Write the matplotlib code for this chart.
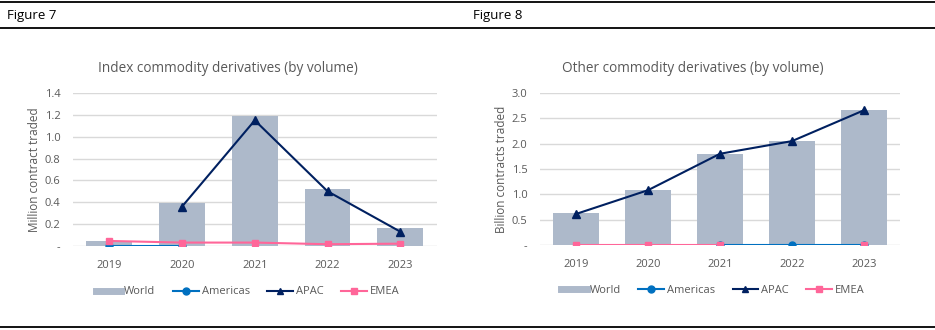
import numpy as np
import matplotlib.pyplot as plt
from matplotlib.lines import Line2D

plt.rcParams['font.family'] = ['Open Sans', 'DejaVu Sans']

years = ["2019", "2020", "2021", "2022", "2023"]

# Figure 7 - index commodity derivatives (million contracts)
idx_world = [0.04, 0.39, 1.19, 0.52, 0.16]
idx_americas = [0.0, 0.0, np.nan, np.nan, np.nan]
idx_apac = [np.nan, 0.36, 1.15, 0.50, 0.13]
idx_emea = [0.045, 0.03, 0.03, 0.015, 0.02]

# Figure 8 - other commodity derivatives (billion contracts)
oth_world = [0.62, 1.08, 1.80, 2.05, 2.66]
oth_americas = [np.nan, np.nan, 0.0, 0.0, 0.0]
oth_apac = [0.61, 1.08, 1.80, 2.05, 2.66]
oth_emea = [0.0, 0.0, 0.0, np.nan, 0.0]

C_WORLD = "#adb9ca"
C_AM = "#0070c0"
C_APAC = "#002060"
C_EMEA = "#ff6699"
GREY = "#595959"


def draw_chart(ax, world, am, apac, emea, ymax, step, fmt, title, ylabel):
    x = np.arange(len(years))
    ax.bar(x, world, width=0.63, color=C_WORLD, zorder=2)
    ax.plot(x, am, color=C_AM, lw=1.5, marker="o", ms=5, zorder=3)
    ax.plot(x, apac, color=C_APAC, lw=1.5, marker="^", ms=5.5, zorder=4)
    ax.plot(x, emea, color=C_EMEA, lw=1.5, marker="s", ms=5, zorder=5)

    ax.set_xlim(-0.5, len(years) - 0.5)
    ax.set_ylim(0, ymax)
    ticks = np.arange(0, ymax + step / 2, step)
    ax.set_yticks(ticks)
    ax.set_yticklabels(["-" if t == 0 else fmt.format(t) for t in ticks])
    ax.set_xticks(x)
    ax.set_xticklabels(years)
    ax.tick_params(length=0, colors=GREY, labelsize=8)
    ax.tick_params(axis="x", pad=10)
    ax.tick_params(axis="y", pad=9)
    ax.grid(axis="y", color="#d9d9d9", lw=1, zorder=0)
    for s in ax.spines.values():
        s.set_visible(False)
    ax.set_title(title, color=GREY, fontsize=9.8, pad=15, x=0.426)
    ax.set_ylabel(ylabel, color=GREY, fontsize=8.5, labelpad=3)

    handles = [
        Line2D([], [], color=C_WORLD, lw=5),
        Line2D([], [], color=C_AM, lw=1.5, marker="o", ms=5),
        Line2D([], [], color=C_APAC, lw=1.5, marker="^", ms=5),
        Line2D([], [], color=C_EMEA, lw=1.5, marker="s", ms=5),
    ]
    leg = ax.legend(handles, ["World", "Americas", "APAC", "EMEA"], loc="upper center",
                    bbox_to_anchor=(0.48, -0.2), ncol=4, frameon=False, fontsize=8,
                    handlelength=2.3, handletextpad=0.25, columnspacing=1.6)
    for t in leg.get_texts():
        t.set_color(GREY)


fig = plt.figure(figsize=(9.35, 3.3), dpi=100)

ax1 = fig.add_axes([0.078, 0.255, 0.389, 0.463])
draw_chart(ax1, idx_world, idx_americas, idx_apac, idx_emea, 1.4, 0.2, "{:.1f}",
           "Index commodity derivatives (by volume)", "Million contract traded")

ax2 = fig.add_axes([0.5775, 0.258, 0.385, 0.46])
draw_chart(ax2, oth_world, oth_americas, oth_apac, oth_emea, 3.0, 0.5, "{:.1f}",
           "Other commodity derivatives (by volume)", "Billion contracts traded")

# header / footer rules
for y in [0.994, 0.915, 0.009]:
    fig.add_artist(Line2D([0, 1], [y, y], color="black", lw=1.3, transform=fig.transFigure))
fig.text(0.008, 0.952, "Figure 7", fontsize=9.5, va="center", color="black")
fig.text(0.506, 0.952, "Figure 8", fontsize=9.5, va="center", color="black")

fig.savefig("out.png", dpi=100)
